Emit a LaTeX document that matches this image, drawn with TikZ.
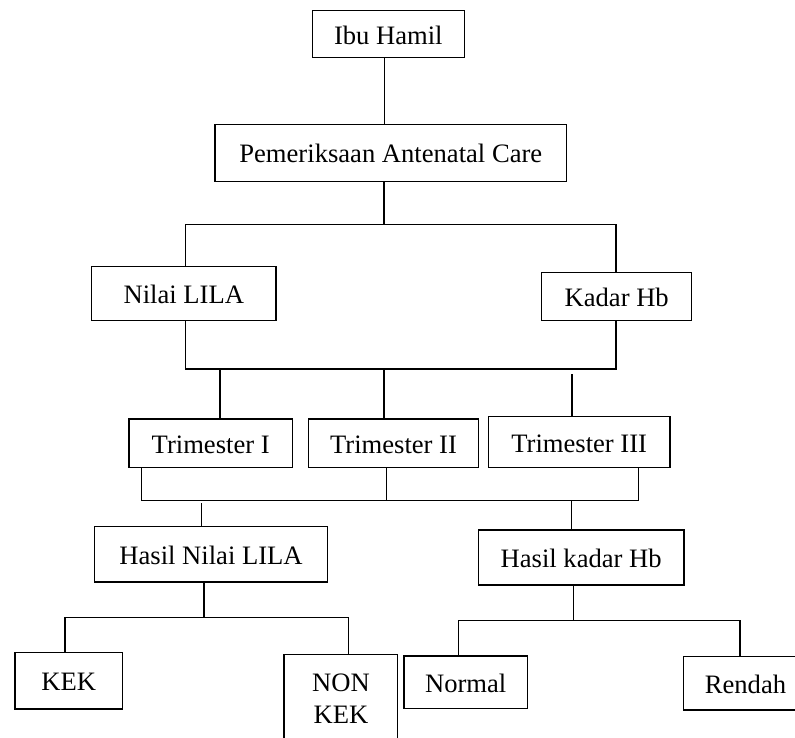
\documentclass[tikz,border=0pt]{standalone}
\usepackage{fontspec}
\setmainfont{Liberation Serif}
\begin{document}
\begin{tikzpicture}[x=1pt,y=-1pt,
  box/.style={draw, line width=1.3pt, inner sep=0pt,
    font=\fontsize{26.6}{28.4}\selectfont, text height=20pt, text depth=0pt},
  multibox/.style={draw, line width=1.3pt, inner xsep=0pt, inner ysep=18.8pt,
    font=\fontsize{26.6}{32.5}\selectfont, align=center},
  conn/.style={line width=1.3pt}]
\path[use as bounding box] (0,0) rectangle (795,738);
\clip (0,0) rectangle (795,738);

% boxes
\node[box, minimum width=152pt, minimum height=47pt] (ibu) at (388.3,34.2) {Ibu Hamil};
\node[box, minimum width=351.7pt, minimum height=57.4pt] (pem) at (390.8,153) {Pemeriksaan Antenatal Care};
\node[box, minimum width=184.3pt, minimum height=54pt] (nilai) at (183.8,293.7) {Nilai LILA};
\node[box, minimum width=150pt, minimum height=48.4pt] (kadar) at (616.7,296.5) {Kadar Hb};
\node[box, minimum width=163.3pt, minimum height=48.7pt] (tri1) at (210.7,443.3) {Trimester I};
\node[box, minimum width=169.6pt, minimum height=48.7pt] (tri2) at (393.5,443.3) {Trimester II};
\node[box, minimum width=181.7pt, minimum height=51pt] (tri3) at (579.2,442.2) {Trimester III};
\node[box, minimum width=233.4pt, minimum height=55.3pt] (hnl) at (211,554.3) {Hasil Nilai LILA};
\node[box, minimum width=205.7pt, minimum height=55pt] (hkh) at (581.2,557.5) {Hasil kadar Hb};
\node[box, minimum width=107.3pt, minimum height=56.3pt] (kek) at (68.7,680.8) {KEK};
\node[multibox, minimum width=113.7pt, anchor=north] (nonkek) at (340.9,654) {NON\\KEK};
\node[box, minimum width=123.3pt, minimum height=52.3pt] (normal) at (465.7,682.2) {Normal};
\node[box, minimum width=124.4pt, minimum height=53.3pt] (rendah) at (745.5,683.3) {Rendah};

% junction coordinates
\coordinate (c1) at (384.3,90);
\coordinate (jA) at (384,224.3);
\coordinate (jL) at (185.7,224.3);
\coordinate (jR) at (616,224.3);
\coordinate (jB1) at (185.7,369);
\coordinate (jB2) at (616,369);
\coordinate (d1) at (220,369);
\coordinate (d2) at (384,369);
\coordinate (d3) at (572,374);
\coordinate (e1) at (141.7,500.7);
\coordinate (e2) at (386.5,500.7);
\coordinate (e3) at (638.3,500.7);
\coordinate (f1) at (201.7,503.3);
\coordinate (f2) at (571.7,500.7);
\coordinate (g0) at (204,617.3);
\coordinate (g1) at (65,617.3);
\coordinate (g2) at (348.3,617.3);
\coordinate (h0) at (573.3,620.7);
\coordinate (h1) at (458.3,620.7);
\coordinate (h2) at (740,620.7);

% connectors
\draw[conn] (ibu.south -| c1) -- (pem.north -| c1);
\draw[conn] (pem.south -| jA) -- (jA);
\draw[conn] (nilai.north -| jL) -- (jL) -- (jR) -- (kadar.north -| jR);
\draw[conn] (nilai.south -| jB1) -- (jB1) -- (jB2) -- (kadar.south -| jB2);
\draw[conn] (d1) -- (tri1.north -| d1);
\draw[conn] (d2) -- (tri2.north -| d2);
\draw[conn] (d3) -- (tri3.north -| d3);
\draw[conn] (tri1.south -| e1) -- (e1) -- (e3) -- (tri3.south -| e3);
\draw[conn] (tri2.south -| e2) -- (e2);
\draw[conn] (f1) -- (hnl.north -| f1);
\draw[conn] (f2) -- (hkh.north -| f2);
\draw[conn] (hnl.south -| g0) -- (g0);
\draw[conn] (kek.north -| g1) -- (g1) -- (g2) -- (nonkek.north -| g2);
\draw[conn] (hkh.south -| h0) -- (h0);
\draw[conn] (normal.north -| h1) -- (h1) -- (h2) -- (rendah.north -| h2);
\end{tikzpicture}
\end{document}
